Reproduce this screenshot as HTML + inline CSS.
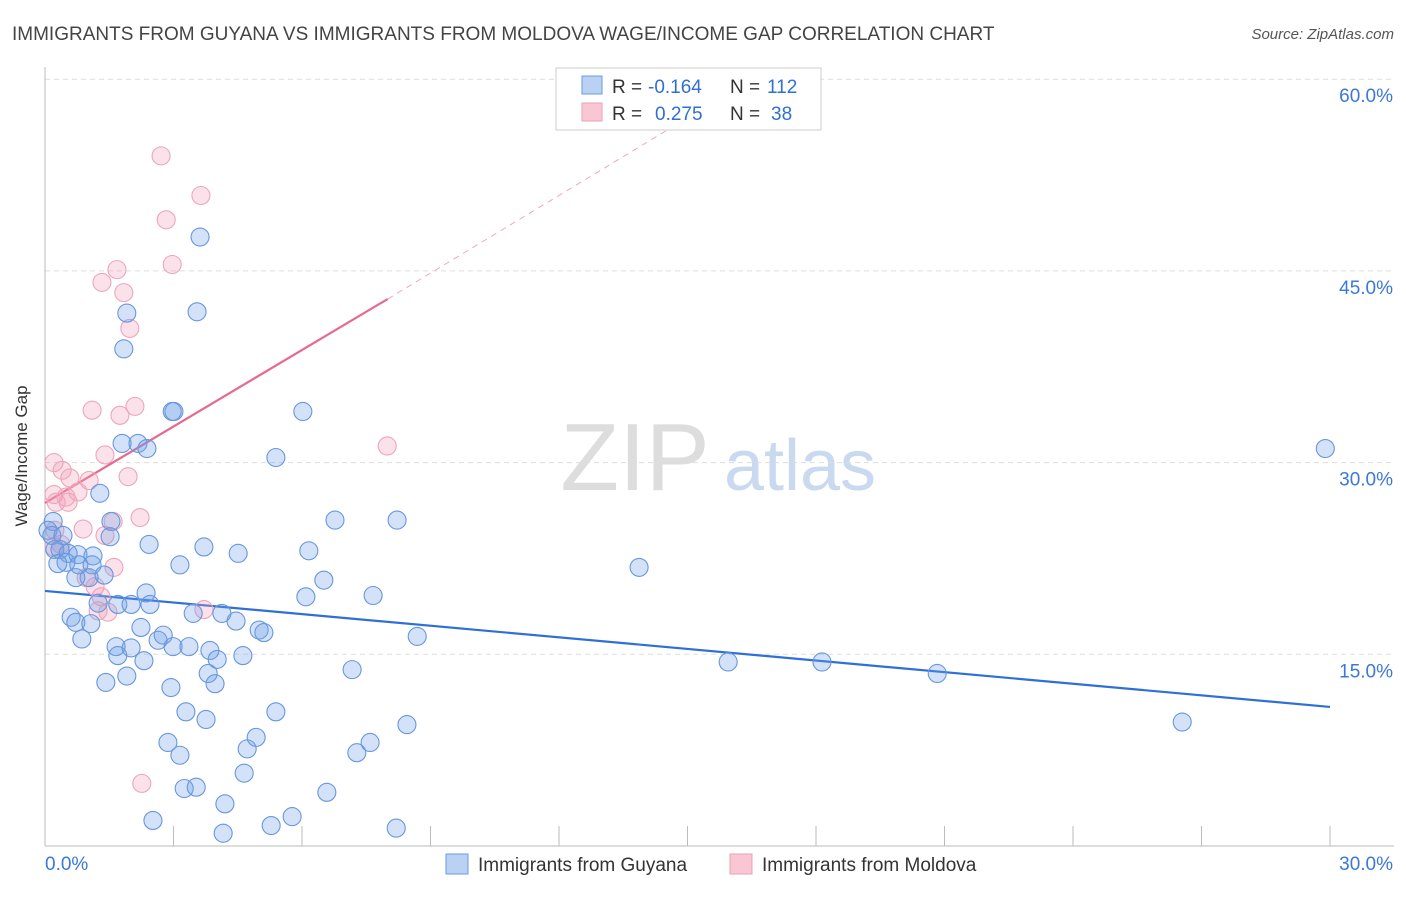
<!DOCTYPE html>
<html><head><meta charset="utf-8"><style>
body{margin:0;background:#fff;font-family:"Liberation Sans",sans-serif}
svg text{font-family:"Liberation Sans",sans-serif}
</style></head><body>
<svg id="c" width="1406" height="892">
<text x="12" y="40" font-size="19" fill="#444">IMMIGRANTS FROM GUYANA VS IMMIGRANTS FROM MOLDOVA WAGE/INCOME GAP CORRELATION CHART</text>
<text x="1394" y="39" font-size="15" fill="#555" text-anchor="end" font-style="italic">Source: ZipAtlas.com</text>
<text x="27" y="456" font-size="17" fill="#333" text-anchor="middle" transform="rotate(-90 27 456)">Wage/Income Gap</text>
<g>
<text x="635" y="490" font-size="96" fill="#ddd" font-family="Liberation Serif" text-anchor="middle">ZIP</text>
<text x="800" y="490" font-size="72" fill="#c9d9ef" text-anchor="middle">atlas</text>
</g>
<g id="grid"></g><g id="axes"></g><g id="trend"></g><g id="pts"></g>
<g>
<rect x="556" y="68" width="265" height="62" fill="#fff" stroke="#ccc"/>
<rect x="582" y="76" width="20" height="18" fill="#b9d1f3" stroke="#6b9be0"/>
<rect x="582" y="103" width="20" height="18" fill="#f9c6d4" stroke="#eaa0b6"/>
<text x="612" y="93" font-size="19" fill="#333">R =</text>
<text x="648" y="93" font-size="19" fill="#2f6fd6">-0.164</text>
<text x="730" y="93" font-size="19" fill="#333">N =</text>
<text x="767" y="93" font-size="19" fill="#2f6fd6">112</text>
<text x="612" y="120" font-size="19" fill="#333">R =</text>
<text x="655" y="120" font-size="19" fill="#2f6fd6">0.275</text>
<text x="730" y="120" font-size="19" fill="#333">N =</text>
<text x="771" y="120" font-size="19" fill="#2f6fd6">38</text>
</g>
<g>
<rect x="446" y="854" width="22" height="20" fill="#b9d1f3" stroke="#6b9be0"/>
<text x="478" y="871" font-size="19" fill="#333">Immigrants from Guyana</text>
<rect x="730" y="854" width="22" height="20" fill="#f9c6d4" stroke="#eaa0b6"/>
<text x="762" y="871" font-size="19" fill="#333">Immigrants from Moldova</text>
</g>
</svg>
<script>
const yTicks=[15,30,45,60];
const yTickLabels=["15.0%","30.0%","45.0%","60.0%"];
const xTicks=[0,3,6,9,12,15,18,21,24,27,30];
const xEndLabels=["0.0%","30.0%"];
const guyanaX=[3.62,3.55,1.91,1.84,2.97,3.01,6.02,1.80,2.17,2.38,5.39,29.89,1.28,6.77,8.22,1.54,0.19,0.07,0.16,0.42,1.52,2.43,0.23,0.35,0.54,0.77,1.12,3.71,4.51,6.16,0.49,0.30,0.79,1.10,3.15,1.38,0.72,1.03,6.51,13.87,2.36,1.24,1.70,2.01,2.45,6.09,7.66,0.61,0.72,1.07,3.46,4.13,4.46,0.86,2.24,2.64,2.76,2.99,3.36,3.85,5.00,5.11,8.69,1.66,1.70,2.01,2.31,4.02,4.62,7.17,3.81,1.42,1.91,2.94,3.97,15.95,18.14,20.83,3.29,3.76,5.39,8.45,26.55,2.87,3.15,4.72,4.93,7.28,7.59,4.65,3.25,3.53,4.20,6.58,2.52,4.16,5.28,5.77,8.20];
const guyanaY=[47.65,41.8,41.7,38.9,34.0,34.0,34.0,31.5,31.5,31.1,30.4,31.1,27.6,25.5,25.5,25.4,25.4,24.7,24.3,24.3,24.2,23.6,23.2,23.2,22.9,22.8,22.7,23.4,22.9,23.1,22.2,22.1,22.0,22.0,22.0,21.2,21.0,21.0,20.8,21.8,19.8,19.0,18.9,18.9,18.9,19.5,19.6,17.9,17.5,17.4,18.2,18.2,17.6,16.2,17.1,16.1,16.5,15.6,15.6,15.3,16.9,16.7,16.4,15.6,14.9,15.5,14.5,14.6,14.9,13.8,13.5,12.8,13.3,12.4,12.7,14.4,14.4,13.5,10.5,9.9,10.5,9.5,9.7,8.1,7.1,7.6,8.5,7.3,8.1,5.7,4.5,4.6,3.3,4.2,2.0,1.0,1.6,2.3,1.4];
const moldovaX=[2.71,3.64,2.83,2.97,1.68,1.33,1.84,1.98,1.10,1.75,2.10,7.99,0.21,0.40,1.40,1.94,0.58,1.03,0.21,0.49,0.54,0.26,2.22,1.59,0.89,1.40,0.21,1.61,0.96,1.17,1.31,1.24,1.47,3.71,2.26,0.37,0.23,0.77];
const moldovaY=[54.0,50.9,49.0,45.5,45.1,44.1,43.3,40.5,34.1,33.7,34.4,31.3,30.0,29.4,30.6,28.9,28.8,28.6,27.5,27.3,26.9,26.9,25.7,25.4,24.8,24.3,23.4,21.8,21.0,20.3,19.5,18.4,18.3,18.5,4.9,23.6,24.7,27.7];
const guyanaTrend=[[0,19.96],[30,10.88]];
const moldovaTrend=[[0,26.84],[8.0,42.8]];
const moldovaTrendExt=[[8.0,42.8],[15.7,58.4]];
const NS="http://www.w3.org/2000/svg";
const X0=45,X1=1330,Y0=846,YP=12.78;
function sx(v){return X0+(X1-X0)*v/30;}
function sy(v){return Y0-v*YP;}
function mk(tag,attrs,parent){const e=document.createElementNS(NS,tag);for(const k in attrs)e.setAttribute(k,attrs[k]);parent.appendChild(e);return e;}
const grid=document.getElementById('grid'),axes=document.getElementById('axes'),trend=document.getElementById('trend'),pts=document.getElementById('pts');
yTicks.forEach((t,i)=>{
 const l=mk('line',{x1:X0,x2:1394,y1:sy(t),y2:sy(t),stroke:'#ddd','stroke-dasharray':'5,4'},grid);
 
 
 const tx=mk('text',{x:1393,y:sy(t)+23,'font-size':19,fill:'#3b78d8','text-anchor':'end'},grid);
 tx.textContent=yTickLabels[i];
 
 
});
const ya=mk('line',{x1:X0,x2:X0,y1:67,y2:Y0,stroke:'#bbb'},axes);


const xa=mk('line',{x1:X0,x2:1394,y1:Y0,y2:Y0,stroke:'#bbb'},axes);


xTicks.forEach(t=>{
 const l=mk('line',{x1:sx(t),x2:sx(t),y1:826,y2:Y0,stroke:'#bbb'},axes);
 
 
});
const xl0=mk('text',{x:45,y:870,'font-size':19,fill:'#3b78d8'},axes);xl0.textContent=xEndLabels[0];


const xl1=mk('text',{x:1393,y:870,'font-size':19,fill:'#3b78d8','text-anchor':'end'},axes);xl1.textContent=xEndLabels[1];


function dot(x,y,fill,stroke,name){const c=mk('circle',{cx:sx(x),cy:sy(y),r:9,fill:fill,stroke:stroke,'stroke-width':1.1},pts);
 
 }
moldovaX.forEach((x,i)=>dot(x,moldovaY[i],'rgba(242,160,185,0.3)','#eda5bb','point-moldova'));
guyanaX.forEach((x,i)=>dot(x,guyanaY[i],'rgba(110,160,232,0.3)','#6797dd','point-guyana'));
function ln(p,stroke,w,dash,name){const l=mk('line',{x1:sx(p[0][0]),y1:sy(p[0][1]),x2:sx(p[1][0]),y2:sy(p[1][1]),stroke:stroke,'stroke-width':w},trend);
 if(dash)l.setAttribute('stroke-dasharray',dash);
 
 }
ln(guyanaTrend,'#2f6fd6',2.2,null,'trend-line-guyana');
ln(moldovaTrend,'#e8698f',2.2,null,'trend-line-moldova');
ln(moldovaTrendExt,'#f0a8bd',1,'6,5','trend-line-moldova-extension');
</script>
</body></html>
